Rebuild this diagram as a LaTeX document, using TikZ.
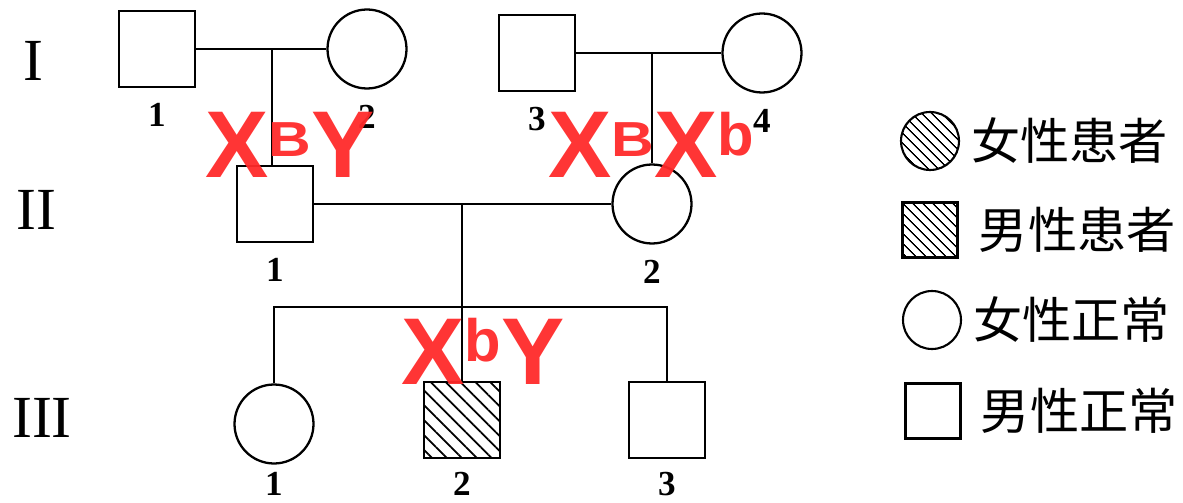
\documentclass[tikz,border=0pt]{standalone}
\usepackage{fontspec}
\usepackage{graphicx}
\setmainfont{Liberation Serif}
\newfontfamily\cjk{Noto Sans CJK SC}
\newfontfamily\genofont{Liberation Sans}
\usepackage{tikz}
\usetikzlibrary{positioning,patterns.meta}
\definecolor{genored}{RGB}{255,42,42}
\newcommand{\alB}{\raisebox{0.44cm}{\fontsize{28}{28}\selectfont\scalebox{1.2}[1]{B}}}
\newcommand{\alb}{\raisebox{0.46cm}{\fontsize{34}{34}\selectfont b}}

\begin{document}
\begin{tikzpicture}[x=0.02cm, y=-0.02cm,
  male/.style={draw, rectangle, line width=1.3pt, minimum size=1.51cm, inner sep=0},
  female/.style={draw, circle, line width=1.3pt, minimum size=1.58cm, inner sep=0},
  ill/.style={pattern={Lines[angle=-45,distance=6pt,line width=1pt]}},
  keyill/.style={pattern={Lines[angle=-45,distance=4pt,line width=0.8pt]}},
  keymale/.style={draw, rectangle, line width=1.2pt, minimum size=1.1cm, inner sep=0},
  keyfemale/.style={draw, circle, line width=1.2pt, minimum size=1.16cm, inner sep=0},
  num/.style={font=\fontsize{20}{20}\selectfont\bfseries, inner sep=0},
  gen/.style={font=\fontsize{34}{34}\selectfont, inner sep=0},
  geno/.style={font=\genofont\bfseries\fontsize{54}{54}\selectfont, text=genored, text opacity=0.95, inner sep=0, anchor=base west},
  keytext/.style={font=\cjk\fontsize{28}{28}\selectfont, inner sep=0, anchor=west},
  link/.style={line width=1.1pt},
]
\useasboundingbox (0,0) rectangle (1183,503);

% generations
\node[gen] (g1) at (33,61) {I};
\node[gen] (g2) at (36,210) {II};
\node[gen] (g3) at (42,418) {III};

% generation I
\node[male] (i1) at (157,49) {};
\node[female] (i2) at (367,49) {};
\node[male] (i3) at (537,53) {};
\node[female] (i4) at (762,53) {};
\coordinate (m1) at (272,49);
\coordinate (m2) at (652,53);

% generation II
\node[male] (ii1) at (275,204) {};
\node[female] (ii2) at (652,204) {};
\coordinate (m3) at (462,204);

% generation III
\node[female] (iii1) at (274,424) {};
\node[male, ill] (iii2) at (462,420) {};
\node[male] (iii3) at (667,420) {};
\coordinate (s3) at (462,307);

\draw[link] (i1) -- (i2);
\draw[link] (i3) -- (i4);
\draw[link] (m1) -- (m1 |- ii1.north);
\draw[link] (m2) -- (ii2.north);
\draw[link] (ii1) -- (ii2);
\draw[link] (m3) -- (iii2.north);
\draw[link] (iii1.north) |- (s3) -| (iii3.north);

% numbers
\node[num, below=0.3cm of i1] (n1) {1};
\node[num, below=0.3cm of i2] (n2) {2};
\node[num, below=0.3cm of i3] (n3) {3};
\node[num, below=0.3cm of i4] (n4) {4};
\node[num, below=0.3cm of ii1] (n5) {1};
\node[num, below=0.3cm of ii2] (n6) {2};
\node[num, below=0.14cm of iii1] (n7) {1};
\node[num, below=0.26cm of iii2] (n8) {2};
\node[num, below=0.26cm of iii3] (n9) {3};

% key
\node[keyfemale, keyill] (k1) at (930,141) {};
\node[keymale, keyill] (k2) at (930,230) {};
\node[keyfemale] (k3) at (932,320) {};
\node[keymale] (k4) at (933,411) {};
\node[keytext, right=0.22cm of k1] (t1) {女性患者};
\node[keytext, right=0.4cm of k2] (t2) {男性患者};
\node[keytext, right=0.22cm of k3] (t3) {女性正常};
\node[keytext, right=0.38cm of k4] (t4) {男性正常};

% genotypes
\node[geno] (x1) at (205,178) {X\alB Y};
\node[geno] (x2) at (548,178) {X\alB X\alb};
\node[geno] (x3) at (401,384) {X\alb Y};

\end{tikzpicture}
\end{document}
